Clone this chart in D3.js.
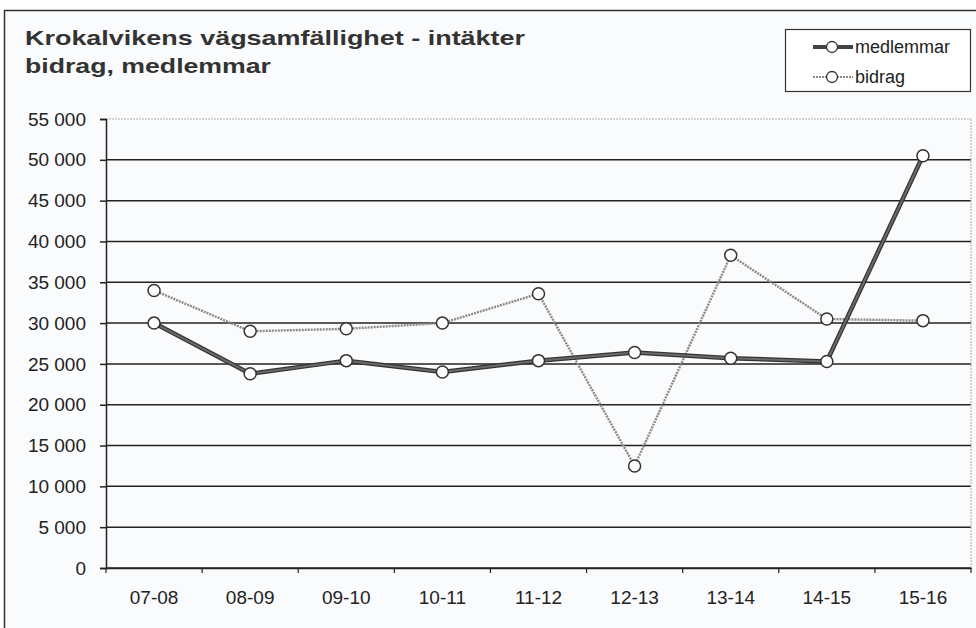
<!DOCTYPE html>
<html>
<head>
<meta charset="utf-8">
<script src="https://cdn.jsdelivr.net/npm/d3@7"></script>
<style>
  body { margin: 0; background: #fff; }
  text { font-family: "Liberation Sans", Arial, sans-serif; }
</style>
</head>
<body>
<div id="graphic"></div>
<script>
// Data
var seasons = ["07-08", "08-09", "09-10", "10-11", "11-12", "12-13", "13-14", "14-15", "15-16"];
var medlemmar = [30000, 23800, 25400, 24000, 25400, 26400, 25700, 25300, 50500];
var bidrag = [34000, 29000, 29300, 30000, 33600, 12500, 38300, 30500, 30300];
var yTicks = [0, 5000, 10000, 15000, 20000, 25000, 30000, 35000, 40000, 45000, 50000, 55000];

var svgWidth = 976;
var svgHeight = 628;

var margin = { top: 119, right: 5, bottom: 60, left: 106 };
var width = 971 - margin.left;
var height = 568 - margin.top;

var svg = d3.select("#graphic")
    .append("svg")
    .attr("width", svgWidth)
    .attr("height", svgHeight);

// outer frame
svg.append("rect")
    .attr("x", 4.5).attr("y", 10.5)
    .attr("width", 980).attr("height", 640)
    .attr("fill", "#fafbfc")
    .attr("stroke", "#333")
    .attr("stroke-width", 1.5);

// title (the scan is stretched sideways, so widths are fitted)
var t1 = svg.append("text")
    .attr("x", 25).attr("y", 45)
    .attr("font-size", 21).attr("font-weight", "bold").attr("fill", "#333")
    .text("Krokalvikens vägsamfällighet - intäkter");
var t2 = svg.append("text")
    .attr("x", 25).attr("y", 73)
    .attr("font-size", 21).attr("font-weight", "bold").attr("fill", "#333")
    .text("bidrag, medlemmar");
t1.attr("textLength", 500).attr("lengthAdjust", "spacingAndGlyphs");
t2.attr("textLength", 246).attr("lengthAdjust", "spacingAndGlyphs");

var chart = svg.append("g")
    .attr("transform", "translate(" + margin.left + "," + margin.top + ")");

var x = d3.scaleBand().domain(seasons).range([0, width]);
var y = d3.scaleLinear().domain([0, 55000]).range([height, 0]);

var fmt = function(d) { return d3.format(",")(d).replace(",", " "); };

// gridlines
chart.append("g")
    .selectAll("line")
    .data(yTicks)
    .enter()
    .append("line")
    .attr("x1", 0).attr("x2", width)
    .attr("y1", function(d) { return y(d); })
    .attr("y2", function(d) { return y(d); })
    .attr("stroke", function(d) { return d === 55000 ? "#aaa" : "#222"; })
    .attr("stroke-dasharray", function(d) { return d === 55000 ? "2,1" : null; })
    .attr("stroke-width", function(d) { return d === 55000 ? 1 : 1.5; });

// right edge of plot area
chart.append("line")
    .attr("x1", width).attr("x2", width)
    .attr("y1", 0).attr("y2", height)
    .attr("stroke", "#aaa").attr("stroke-dasharray", "2,1");

// y axis
var yAxis = chart.append("g")
    .call(d3.axisLeft(y).tickValues(yTicks).tickFormat(fmt).tickSize(6).tickPadding(14));
yAxis.select(".domain").attr("stroke", "#222").attr("stroke-width", 1.5);
yAxis.selectAll(".tick line").attr("stroke", "#222").attr("stroke-width", 1.5);
yAxis.selectAll("text")
    .attr("font-size", 19).attr("fill", "#222")
    .style("font-family", "'Liberation Sans', Arial, sans-serif");

// x axis, ticks at category boundaries
var xAxis = chart.append("g")
    .attr("transform", "translate(0," + height + ")")
    .call(d3.axisBottom(x).tickSize(0).tickPadding(23));
xAxis.select(".domain").attr("stroke", "#222").attr("stroke-width", 1.5);
xAxis.selectAll("text")
    .attr("font-size", 19).attr("fill", "#222")
    .style("font-family", "'Liberation Sans', Arial, sans-serif");
chart.append("g")
    .selectAll("line")
    .data(seasons.concat(["end"]))
    .enter()
    .append("line")
    .attr("x1", function(d, i) { return i * x.step(); })
    .attr("x2", function(d, i) { return i * x.step(); })
    .attr("y1", height).attr("y2", height + 5)
    .attr("stroke", "#222").attr("stroke-width", 1.2);

var line = d3.line()
    .x(function(d, i) { return x(seasons[i]) + x.bandwidth() / 2; })
    .y(function(d) { return y(d); });

// bidrag series (thin dotted grey)
chart.append("path")
    .datum(bidrag)
    .attr("d", line)
    .attr("fill", "none")
    .attr("stroke", "#8a8a8a")
    .attr("stroke-width", 2.4)
    .attr("stroke-dasharray", "2,1");

// medlemmar series (thick dark grey)
chart.append("path")
    .datum(medlemmar)
    .attr("d", line)
    .attr("fill", "none")
    .attr("stroke", "#333")
    .attr("stroke-width", 4.5);
chart.append("path")
    .datum(medlemmar)
    .attr("d", line)
    .attr("fill", "none")
    .attr("stroke", "#6a6a6a")
    .attr("stroke-width", 2);

// markers
[bidrag, medlemmar].forEach(function(series) {
    chart.append("g")
        .selectAll("circle")
        .data(series)
        .enter()
        .append("circle")
        .attr("cx", function(d, i) { return x(seasons[i]) + x.bandwidth() / 2; })
        .attr("cy", function(d) { return y(d); })
        .attr("r", 6)
        .attr("fill", "#fff")
        .attr("stroke", "#333")
        .attr("stroke-width", 1.5);
});

// legend
var legend = svg.append("g");
legend.append("rect")
    .attr("x", 785.5).attr("y", 29.5)
    .attr("width", 185).attr("height", 62)
    .attr("fill", "#fff").attr("stroke", "#333").attr("stroke-width", 1.2);

var legendItems = [
    { name: "medlemmar", color: "#444", width: 4, dash: null },
    { name: "bidrag", color: "#8a8a8a", width: 2, dash: "2,1" }
];
legendItems.forEach(function(item, i) {
    var ly = 47 + i * 30;
    legend.append("line")
        .attr("x1", 813).attr("x2", 853)
        .attr("y1", ly).attr("y2", ly)
        .attr("stroke", item.color)
        .attr("stroke-width", item.width)
        .attr("stroke-dasharray", item.dash);
    legend.append("circle")
        .attr("cx", 832).attr("cy", ly).attr("r", 5.5)
        .attr("fill", "#fff").attr("stroke", "#333").attr("stroke-width", 1.3);
    legend.append("text")
        .attr("x", 855).attr("y", ly + 6)
        .attr("font-size", 18).attr("fill", "#222")
        .text(item.name);
});
</script>
</body>
</html>
